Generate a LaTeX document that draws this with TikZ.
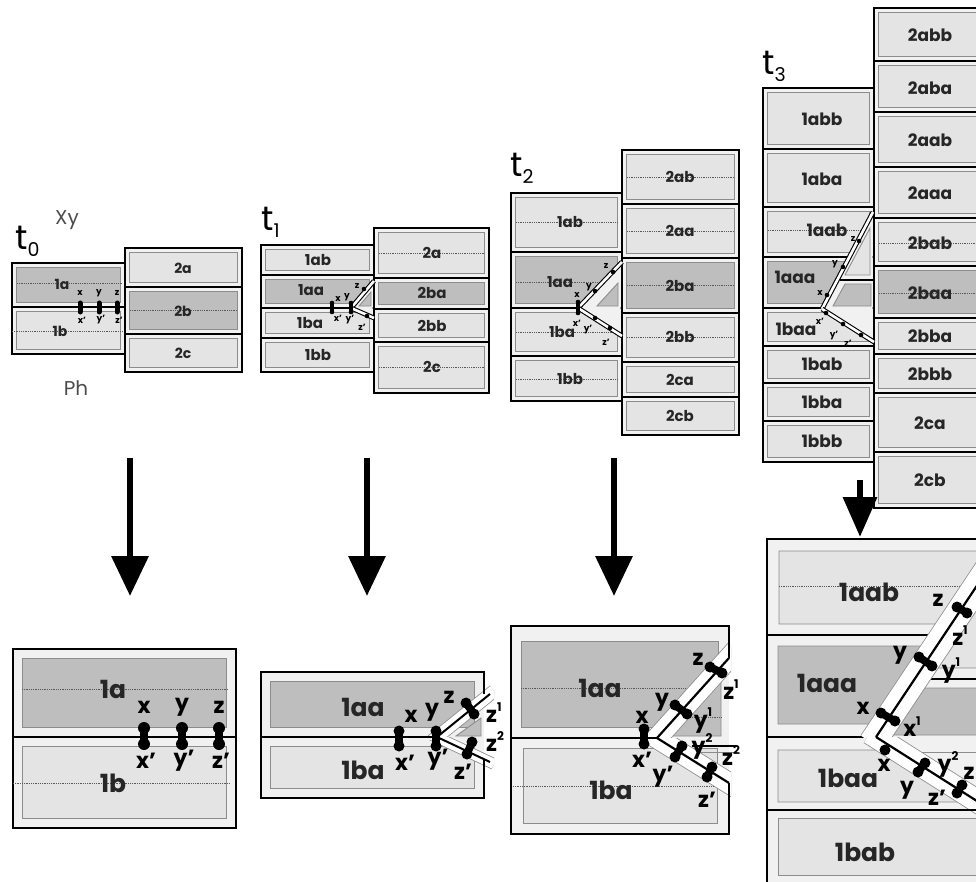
\documentclass[tikz,border=0pt]{standalone}
\usepackage{fontspec}
\setmainfont{Poppins}
\usetikzlibrary{arrows.meta}

\definecolor{marginfill}{HTML}{F1F1F1}
\definecolor{lightfill}{HTML}{E4E4E4}
\definecolor{darkfill}{HTML}{BEBEBE}
\definecolor{edgegray}{HTML}{8C8C8C}

\tikzset{
  cellframe/.style={draw=black, line width=2.2pt, fill=marginfill},
  lightin/.style={draw=edgegray, line width=0.9pt, fill=lightfill},
  darkin/.style={draw=edgegray, line width=0.9pt, fill=darkfill},
  dotln/.style={densely dotted, line width=0.8pt, black!65},
  faultdbl/.style={draw=black, line width=1.1pt, double=white, double distance=2.6pt},
  lab/.style={inner sep=0pt, text=black!85, font=\bfseries\fontsize{14}{14}\selectfont},
  midlab/.style={lab, font=\bfseries\fontsize{15}{15}\selectfont},
  lab3/.style={lab, font=\bfseries\fontsize{17}{17}\selectfont},
  biglab/.style={lab, font=\bfseries\fontsize{25}{25}\selectfont},
  tinyltr/.style={inner sep=0pt, font=\bfseries\fontsize{9}{9}\selectfont},
  ltr/.style={inner sep=0pt, font=\bfseries\fontsize{22}{22}\selectfont},
  tlab/.style={inner sep=0pt, anchor=base west, font=\fontsize{34}{34}\selectfont},
  sidelab/.style={inner sep=0pt, text=black!70, font=\fontsize{20}{20}\selectfont},
  bigarrow/.style={line width=6.5pt, -{Triangle[length=40pt, width=36pt]}},
  smallarrow/.style={line width=6.5pt, -{Triangle[length=40pt, width=33pt]}}
}

% one layer: outer frame and inner slab
\newcommand{\rockcell}[6][4.5]{%
  \draw[cellframe] (#2,#3) rectangle (#4,#5);
  \draw[#6] (#2+#1,#3+#1) rectangle (#4-#1,#5-#1);
}
% two marker dots joined
\newcommand{\dotpair}[5]{%
  \draw[line width=1.4*#1pt, line cap=round] (#2,#3) -- (#4,#5);
  \fill (#2,#3) circle[radius=#1pt] (#4,#5) circle[radius=#1pt];
}
% white band along a fault arm
\newcommand{\bandarm}[3]{%
  \draw[edgegray, line width=#1pt+1.6pt] #2 -- #3;
  \draw[white, line width=#1pt] #2 -- #3;
}
\newcommand{\tsub}[1]{t\raisebox{-7pt}{\fontsize{19}{19}\selectfont #1}}
\newcommand{\upnum}[1]{\raisebox{0.5em}{\fontsize{12}{12}\selectfont #1}}

\begin{document}
\begin{tikzpicture}[x=1pt, y=-1pt]
\useasboundingbox (0,0) rectangle (976,882);

% ===== t0 (top)
\rockcell{12}{263}{125}{307}{darkin}
\rockcell{12}{307}{125}{354}{lightin}
\rockcell{125}{248}{242}{287}{lightin}
\rockcell{125}{287}{242}{334}{darkin}
\rockcell{125}{334}{242}{372}{lightin}
\draw[dotln] (17,283) -- (122,283);
\draw[dotln] (12,331) -- (122,331);
\draw[dotln] (130,310) -- (237,310);
\node[lab] (p0-1a) at (62,284) {1a};
\node[lab] (p0-1b) at (60,331) {1b};
\node[lab] (p0-2a) at (183,268) {2a};
\node[lab] (p0-2b) at (183,311) {2b};
\node[lab] (p0-2c) at (183,353) {2c};
\foreach \xx in {80,99,117}
  \draw[line width=5pt, line cap=round] (\xx,303) -- (\xx,312);
\node[tinyltr] (p0x) at (80,293) {x};
\node[tinyltr] (p0y) at (99,293) {y};
\node[tinyltr] (p0z) at (117,293) {z};
\node[tinyltr] (p0xp) at (82,320) {x’};
\node[tinyltr] (p0yp) at (101,320) {y’};
\node[tinyltr] (p0zp) at (119,320) {z’};
\node[tlab] (t0) at (15,250) {\tsub{0}};
\node[sidelab] (xy) at (67,220) {Xy};
\node[sidelab] (ph) at (76,388) {Ph};

% ===== t1 (top)
\rockcell{261}{245}{374}{275}{lightin}
\rockcell{261}{275}{374}{308}{darkin}
\rockcell{261}{308}{374}{338}{lightin}
\rockcell{261}{338}{374}{372}{lightin}
\rockcell{374}{228}{489}{278}{lightin}
\rockcell{374}{278}{489}{309}{darkin}
\rockcell{374}{309}{489}{342}{lightin}
\rockcell{374}{342}{489}{393}{lightin}
\draw[dotln] (379,253) -- (484,253);
\draw[dotln] (379,367) -- (484,367);
\fill[marginfill] (351,308) -- (372.5,283) -- (372.5,317) -- cycle;
\draw[darkin] (359,306) -- (371,306) -- (371,292) -- cycle;
\draw[faultdbl] (351,308) -- (374,281);
\draw[faultdbl] (351,308) -- (374,318);
\node[midlab] (p1-1ab) at (318,260) {1ab};
\node[midlab] (p1-1aa) at (311,290) {1aa};
\node[midlab] (p1-1ba) at (310,323) {1ba};
\node[midlab] (p1-1bb) at (318,355) {1bb};
\node[midlab] (p1-2a) at (432,253) {2a};
\node[midlab] (p1-2ba) at (432,293) {2ba};
\node[midlab] (p1-2bb) at (432,326) {2bb};
\node[midlab] (p1-2c) at (432,367) {2c};
\dotpair{2.3}{332}{303}{332}{312}
\dotpair{2.3}{351}{303}{351}{312}
\fill (364,289) circle[radius=2.3pt] (367,316) circle[radius=2.3pt];
\node[tinyltr] (p1x) at (338,299) {x};
\node[tinyltr] (p1y) at (347,297) {y};
\node[tinyltr] (p1z) at (357,286) {z};
\node[tinyltr] (p1xp) at (338,318) {x’};
\node[tinyltr] (p1yp) at (350,320) {y’};
\node[tinyltr] (p1zp) at (362,327) {z’};
\node[tlab] (t1) at (261,231) {\tsub{1}};

% ===== t2 (top)
\rockcell{511}{193}{622}{252}{lightin}
\rockcell{511}{252}{622}{308}{darkin}
\rockcell{511}{308}{622}{356}{lightin}
\rockcell{511}{356}{622}{401}{lightin}
\rockcell{622}{150}{739}{204}{lightin}
\rockcell{622}{204}{739}{258}{lightin}
\rockcell{622}{258}{739}{313}{darkin}
\rockcell{622}{313}{739}{362}{lightin}
\rockcell{622}{362}{739}{397}{lightin}
\rockcell{622}{397}{739}{435}{lightin}
\foreach \yy in {222,282,332,379}
  \draw[dotln] (516,\yy) -- (617,\yy);
\foreach \yy in {177,231,285,337}
  \draw[dotln] (627,\yy) -- (734,\yy);
\fill[marginfill] (578,308) -- (620.5,264) -- (620.5,335) -- cycle;
\draw[darkin] (597,306) -- (618,306) -- (618,283) -- cycle;
\draw[faultdbl] (578,308) -- (622,262);
\draw[faultdbl] (578,308) -- (622,336);
\node[midlab] (p2-1ab) at (570,222) {1ab};
\node[midlab] (p2-1aa) at (560,282) {1aa};
\node[midlab] (p2-1ba) at (562,332) {1ba};
\node[midlab] (p2-1bb) at (570,379) {1bb};
\node[midlab] (p2-2ab) at (680,177) {2ab};
\node[midlab] (p2-2aa) at (680,231) {2aa};
\node[midlab] (p2-2ba) at (680,286) {2ba};
\node[midlab] (p2-2bb) at (680,337) {2bb};
\node[midlab] (p2-2ca) at (680,380) {2ca};
\node[midlab] (p2-2cb) at (680,416) {2cb};
\dotpair{2.3}{578}{302}{578}{313}
\fill (595,291) circle[radius=2.3pt] (613,272) circle[radius=2.3pt]
      (595,318) circle[radius=2.3pt] (610,328) circle[radius=2.3pt];
\node[tinyltr] (p2x) at (577,295) {x};
\node[tinyltr] (p2y) at (589,287) {y};
\node[tinyltr] (p2z) at (606,266) {z};
\node[tinyltr] (p2xp) at (577,323) {x’};
\node[tinyltr] (p2yp) at (588,330) {y’};
\node[tinyltr] (p2zp) at (606,342) {z’};
\node[tlab] (t2) at (510,177) {\tsub{2}};

% ===== t3 (top)
\rockcell{763}{88}{874}{149}{lightin}
\rockcell{763}{149}{874}{207}{lightin}
\rockcell{763}{207}{874}{257}{lightin}
\rockcell{763}{257}{874}{308}{darkin}
\rockcell{763}{308}{874}{346}{lightin}
\rockcell{763}{346}{874}{383}{lightin}
\rockcell{763}{383}{874}{421}{lightin}
\rockcell{763}{421}{874}{462}{lightin}
\rockcell{874}{8}{1000}{61}{lightin}
\rockcell{874}{61}{1000}{112}{lightin}
\rockcell{874}{112}{1000}{167}{lightin}
\rockcell{874}{167}{1000}{218}{lightin}
\rockcell{874}{218}{1000}{266}{lightin}
\rockcell{874}{266}{1000}{318}{darkin}
\rockcell{874}{318}{1000}{354}{lightin}
\rockcell{874}{354}{1000}{393}{lightin}
\rockcell{874}{393}{1000}{452}{lightin}
\rockcell{874}{452}{1000}{508}{lightin}
\draw[dotln] (768,230) -- (869,230);
\draw[dotln] (879,243) -- (976,243);
\draw[dotln] (879,293) -- (976,293);
\fill[marginfill] (822,309) -- (872.5,214) -- (872.5,341) -- cycle;
\draw[lightin] (845,275) -- (870,275) -- (870,228) -- cycle;
\draw[line width=2pt] (840,280) -- (874,280);
\draw[darkin] (833,306) -- (871,306) -- (871,284) -- (845,284) -- cycle;
\draw[faultdbl] (822,309) -- (873,212);
\draw[faultdbl] (822,309) -- (874,342);
\node[lab3] (p3-1abb) at (822,119) {1abb};
\node[lab3] (p3-1aba) at (822,179) {1aba};
\node[lab3] (p3-1aab) at (827,230) {1aab};
\node[lab3] (p3-1aaa) at (795,277) {1aaa};
\node[lab3] (p3-1baa) at (796,329) {1baa};
\node[lab3] (p3-1bab) at (822,364) {1bab};
\node[lab3] (p3-1bba) at (822,402) {1bba};
\node[lab3] (p3-1bbb) at (822,441) {1bbb};
\node[lab3] (p3-2abb) at (930,35) {2abb};
\node[lab3] (p3-2aba) at (930,88) {2aba};
\node[lab3] (p3-2aab) at (930,140) {2aab};
\node[lab3] (p3-2aaa) at (930,193) {2aaa};
\node[lab3] (p3-2bab) at (930,243) {2bab};
\node[lab3] (p3-2baa) at (930,293) {2baa};
\node[lab3] (p3-2bba) at (930,336) {2bba};
\node[lab3] (p3-2bbb) at (930,374) {2bbb};
\node[lab3] (p3-2ca) at (930,423) {2ca};
\node[lab3] (p3-2cb) at (930,480) {2cb};
\fill (827,295) circle[radius=2.3pt] (843,267) circle[radius=2.3pt]
      (859,241) circle[radius=2.3pt] (826,313) circle[radius=2.3pt]
      (843,324) circle[radius=2.3pt] (861,335) circle[radius=2.3pt];
\node[tinyltr] (p3x) at (820,293) {x};
\node[tinyltr] (p3y) at (835,264) {y};
\node[tinyltr] (p3z) at (853,239) {z};
\node[tinyltr] (p3xp) at (820,321) {x’};
\node[tinyltr] (p3yp) at (834,336) {y’};
\node[tinyltr] (p3zp) at (848,343) {z’};
\node[tlab] (t3) at (762,75) {\tsub{3}};

% ===== arrows
\coordinate (ar0s) at (130,458); \coordinate (ar0e) at (130,596);
\coordinate (ar1s) at (367,458); \coordinate (ar1e) at (367,596);
\coordinate (ar2s) at (614,458); \coordinate (ar2e) at (614,596);
\coordinate (ar3s) at (860,480); \coordinate (ar3e) at (860,537);
\draw[bigarrow] (ar0s) -- (ar0e);
\draw[bigarrow] (ar1s) -- (ar1e);
\draw[bigarrow] (ar2s) -- (ar2e);
\draw[smallarrow] (ar3s) -- (ar3e);

\begin{scope}[cellframe/.append style={line width=2.8pt}]
% ===== t0 (bottom)
\rockcell[9.5]{13}{649}{236}{737}{darkin}
\rockcell[9.5]{13}{737}{236}{828}{lightin}
\draw[dotln] (22,689) -- (228,689);
\draw[dotln] (13,783) -- (230,783);
\node[biglab] (q0-1a) at (113,689) {1a};
\node[biglab] (q0-1b) at (113,783) {1b};
\dotpair{6}{144}{728}{144}{744}
\dotpair{6}{182}{728}{182}{744}
\dotpair{6}{219}{728}{219}{744}
\node[ltr] (q0x) at (144,707) {x};
\node[ltr] (q0y) at (182,707) {y};
\node[ltr] (q0z) at (219,707) {z};
\node[ltr] (q0xp) at (146,761) {x’};
\node[ltr] (q0yp) at (184,761) {y’};
\node[ltr] (q0zp) at (221,761) {z’};

% ===== t1 (bottom)
\fill[marginfill] (261,672) rectangle (484,798);
\draw[darkin] (270.5,681.5) rectangle (474,727.5);
\draw[lightin] (270.5,746.5) rectangle (474,788.5);
\draw[darkin] (456,736) -- (481,736) -- (481,718) -- cycle;
\begin{scope}
  \clip (380,640) rectangle (494,737);
  \bandarm{12}{(432,741)}{(494,691)}
\end{scope}
\begin{scope}
  \clip (380,737) rectangle (494,800);
  \bandarm{10}{(432,735)}{(494,764)}
\end{scope}
\draw[cellframe, fill=none] (484,694) -- (484,672) -- (261,672) -- (261,798) -- (484,798) -- (484,760);
\draw[line width=2.8pt] (261,737) -- (437,737);
\draw[line width=2pt] (437,737) -- (490,694);
\draw[line width=2pt] (437,737) -- (490,762);
\node[biglab] (q1-1aa) at (363,707) {1aa};
\node[biglab] (q1-1ba) at (363,770) {1ba};
\dotpair{5.5}{399}{731}{399}{746}
\dotpair{5.5}{436}{731}{436}{746}
\dotpair{5.5}{466}{703}{474}{714}
\dotpair{5.5}{472}{742}{467}{754}
\node[ltr] (q1x) at (411,716) {x};
\node[ltr] (q1y) at (432,712) {y};
\node[ltr] (q1z) at (449,697) {z};
\node[ltr] (q1xp) at (405,763) {x’};
\node[ltr] (q1yp) at (438,760) {y’};
\node[ltr] (q1zp) at (463,772) {z’};
\node[ltr, anchor=west] (q1z1) at (486,713) {z\upnum{1}};
\node[ltr, anchor=west] (q1z2) at (486,742) {z\upnum{2}};

% ===== t2 (bottom)
\fill[marginfill] (511,626) rectangle (729,834);
\draw[darkin] (521,641) rectangle (718,727);
\draw[lightin] (523,748) rectangle (717,823);
\draw[dotln] (521,688) -- (718,688);
\draw[dotln] (513,786) -- (717,786);
\draw[darkin] (668,736) -- (721,736) -- (721,680) -- cycle;
\draw[dotln] (692,717) -- (721,717);
\draw[line width=1.6pt] (692,746) -- (737,746);
\draw[edgegray, line width=0.8pt] (696,752) -- (737,752);
\begin{scope}
  \clip (600,600) rectangle (731,738);
  \bandarm{20}{(653,742.5)}{(736,650)}
\end{scope}
\begin{scope}
  \clip (600,738) rectangle (731,840);
  \bandarm{20}{(652,735)}{(740,790)}
\end{scope}
\draw[cellframe, fill=none] (729,658) -- (729,626) -- (511,626) -- (511,834) -- (729,834) -- (729,783);
\draw[line width=2.8pt] (511,738) -- (657,738);
\draw[line width=2.2pt] (657,738) -- (729,658);
\draw[line width=2.2pt] (657,738) -- (729,783);
\node[biglab] (q2-1aa) at (600,688) {1aa};
\node[biglab] (q2-1ba) at (611,790) {1ba};
\dotpair{5.5}{710}{667}{722}{673}
\dotpair{5.5}{675}{705}{687}{714}
\dotpair{5.5}{644}{729}{644}{744}
\dotpair{5.5}{682}{746}{675}{757}
\dotpair{5.5}{712}{767}{707}{777}
\node[ltr] (q2z) at (698,659) {z};
\node[ltr] (q2z1) at (731,690) {z\upnum{1}};
\node[ltr] (q2y) at (662,702) {y};
\node[ltr] (q2y1) at (703,721) {y\upnum{1}};
\node[ltr] (q2x) at (642,717) {x};
\node[ltr] (q2xp) at (642,760) {x’};
\node[ltr] (q2yp) at (663,777) {y’};
\node[ltr] (q2y2) at (702,746) {y\upnum{2}};
\node[ltr] (q2z2) at (731,756) {z\upnum{2}};
\node[ltr] (q2zp) at (707,800) {z’};

% ===== t3 (bottom)
\fill[marginfill] (767,539) rectangle (1000,900);
\draw[lightin] (779,551) -- (1000,551) -- (951,624) -- (779,624) -- cycle;
\draw[dotln] (779,586) -- (975,586);
\draw[darkin] (778,646) -- (937,646) -- (885,724) -- (778,724) -- cycle;
\draw[lightin] (1000,551) -- (922,668) -- (1000,668) -- cycle;
\draw[line width=2.8pt] (915,679) -- (1000,679);
\draw[darkin] (909,688) -- (1000,688) -- (1000,735) -- (877,735) -- cycle;
\draw[edgegray, line width=0.8pt] (905,752) -- (1000,752);
\draw[lightin] (778,750) -- (896,750) -- (978,802) -- (778,802) -- cycle;
\draw[lightin] (778,818) rectangle (1000,875);
\draw[line width=2.8pt] (767,635) -- (944,635);
\draw[line width=2.8pt] (767,737) -- (876,737);
\begin{scope}
  \clip (760,500) rectangle (1000,737);
  \bandarm{26}{(872,743)}{(1014,530)}
\end{scope}
\begin{scope}
  \clip (760,737) rectangle (1000,900);
  \bandarm{22}{(870,733)}{(1010,822)}
\end{scope}
\draw[line width=2.8pt] (767,810) -- (1000,810);
\draw[cellframe, fill=none] (767,900) -- (767,539) -- (1000,539);
\draw[line width=2.2pt] (876,737) -- (1014,530);
\draw[line width=2.2pt] (876,737) -- (1010,822);
\node[biglab] (q3-1aab) at (869,592) {1aab};
\node[biglab] (q3-1aaa) at (827,683) {1aaa};
\node[biglab] (q3-1baa) at (848,778) {1baa};
\node[biglab] (q3-1bab) at (865,852) {1bab};
\dotpair{5.5}{957}{607}{967}{613}
\dotpair{5.5}{919}{657}{932}{666}
\dotpair{5.5}{881}{713}{895}{721}
\fill (885,750) circle[radius=5.5pt];
\dotpair{5.5}{925}{763}{918}{772}
\dotpair{5.5}{962}{785}{957}{793}
\node[ltr] (q3z) at (938,600) {z};
\node[ltr] (q3z1) at (960,636) {z\upnum{1}};
\node[ltr] (q3y) at (900,655) {y};
\node[ltr] (q3y1) at (951,671) {y\upnum{1}};
\node[ltr] (q3x) at (863,708) {x};
\node[ltr] (q3x1) at (912,727) {x\upnum{1}};
\node[ltr] (q3xl) at (884,765) {x};
\node[ltr] (q3yl) at (907,790) {y};
\node[ltr] (q3y2) at (948,764) {y\upnum{2}};
\node[ltr] (q3zp) at (937,798) {z’};
\node[ltr] (q3zl) at (969,773) {z};
\end{scope}
\end{tikzpicture}
\end{document}
